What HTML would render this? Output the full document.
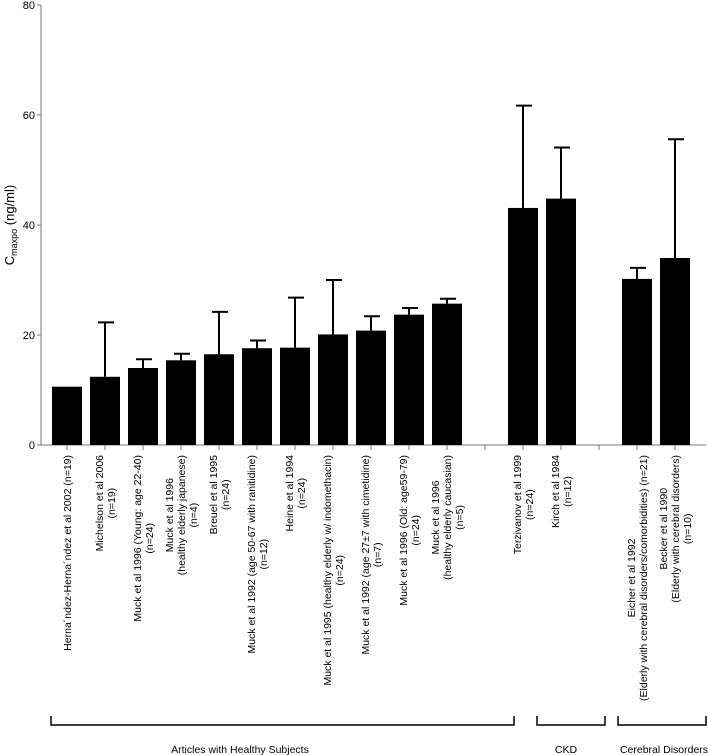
<!DOCTYPE html>
<html><head><meta charset="utf-8"><style>
body{margin:0;background:#fff}
svg{display:block;font-family:"Liberation Sans",Arial,sans-serif}
</style></head><body>
<svg id="chart" width="708" height="755" viewBox="0 0 708 755" xmlns="http://www.w3.org/2000/svg">
<g id="yaxis"></g>
<g id="bars"></g>
<g id="xlabels"></g>
<text transform="translate(14,225) rotate(-90)" text-anchor="middle" font-size="13">C<tspan font-size="9" dy="3">maxpo</tspan><tspan dy="-3"> (ng/ml)</tspan></text>
<g stroke="#000" stroke-width="1.5" fill="none">
<path d="M51,716V725H514V716"/>
<path d="M537,716V725H605V716"/>
<path d="M618,716V725H706V716"/>
</g>
<text x="240" y="753" font-size="10.5" text-anchor="middle">Articles with Healthy Subjects</text>
<text x="566" y="753" font-size="10.5" text-anchor="middle">CKD</text>
<text x="664" y="753" font-size="10.5" text-anchor="middle">Cerebral Disorders</text>
</svg>
<script>
const categories = [
 ["Herna´ndez-Herna´ndez et al 2002 (n=19)"],
 ["Michelson et al 2006","(n=19)"],
 ["Muck et al 1996 (Young: age 22-40)","(n=24)"],
 ["Muck et al 1996","(healthy elderly japanese)","(n=4)"],
 ["Breuel et al 1995","(n=24)"],
 ["Muck et al 1992 (age 50-67 with ranitidine)","(n=12)"],
 ["Heine et al 1994","(n=24)"],
 ["Muck et al 1995 (healthy elderly w/ indomethacin)","(n=24)"],
 ["Muck et al 1992 (age 27±7 with cimetidine)","(n=7)"],
 ["Muck et al 1996 (Old: age59-79)","(n=24)"],
 ["Muck et al 1996","(healthy elderly caucasian)","(n=5)"],
 null,
 ["Terzivanov et al 1999","(n=24)"],
 ["Kirch et al 1984","(n=12)"],
 null,
 ["Eicher et al 1992","(Elderly with cerebral disorders/comorbidities) (n=21)"],
 ["Becker et al 1990","(Elderly with cerebral disorders)","(n=10)"]
];
const means = [10.6,12.4,14.0,15.4,16.5,17.6,17.7,20.1,20.8,23.7,25.7,null,43.1,44.8,null,30.2,34.0];
const upper = [null,22.3,15.6,16.6,24.2,19.0,26.8,30.0,23.4,24.9,26.6,null,61.7,54.1,null,32.2,55.6];
const yTicks = [0,20,40,60,80];

const NS="http://www.w3.org/2000/svg";
const y = v => 445 - v*5.5;
const x = i => 67 + i*38;
function mk(tag, attrs, parent){const e=document.createElementNS(NS,tag);for(const k in attrs)e.setAttribute(k,attrs[k]);parent.appendChild(e);return e;}
const ya=document.getElementById('yaxis'), bg=document.getElementById('bars'), xl=document.getElementById('xlabels');
mk('line',{x1:41,x2:41,y1:5,y2:445,stroke:'#777','stroke-width':1},ya);
mk('line',{x1:41,x2:706,y1:445,y2:445,stroke:'#777','stroke-width':1},ya);
yTicks.forEach(t=>{
  const l=mk('line',{x1:37,x2:41,y1:y(t),y2:y(t),stroke:'#777'},ya);
  
  
  const tx=mk('text',{x:35,y:y(t)+4,'text-anchor':'end','font-size':11},ya);
  tx.textContent=t;
  
  
});
categories.forEach((c,i)=>{
  const cx=x(i);
  const tk=mk('line',{x1:cx,x2:cx,y1:445,y2:450,stroke:'#777'},bg);
  
  
  if(means[i]==null) return;
  const b=mk('rect',{x:cx-15,y:y(means[i]),width:30,height:445-y(means[i]),fill:'#000'},bg);
  
  
  if(upper[i]!=null){
    const e=mk('path',{d:`M${cx},${y(means[i])}V${y(upper[i])}M${cx-7},${y(upper[i])}H${cx+9}`,stroke:'#000','stroke-width':2,fill:'none'},bg);
    
    
  }
  const g=mk('g',{},xl);
  
  
  const n=c.length, texts=[];
  c.forEach((line,j)=>{
    const t=mk('text',{'font-size':10.5,'text-anchor':'middle'},g);
    t.textContent=line;texts.push(t);
  });
  const maxL=Math.max(...texts.map(t=>t.getComputedTextLength()));
  texts.forEach((t,j)=>{
    const lx=cx+4+(j-(n-1)/2)*12;
    const ly=455+maxL/2;
    t.setAttribute('transform',`translate(${lx},${ly}) rotate(-90)`);
  });
});
</script>
</body></html>
